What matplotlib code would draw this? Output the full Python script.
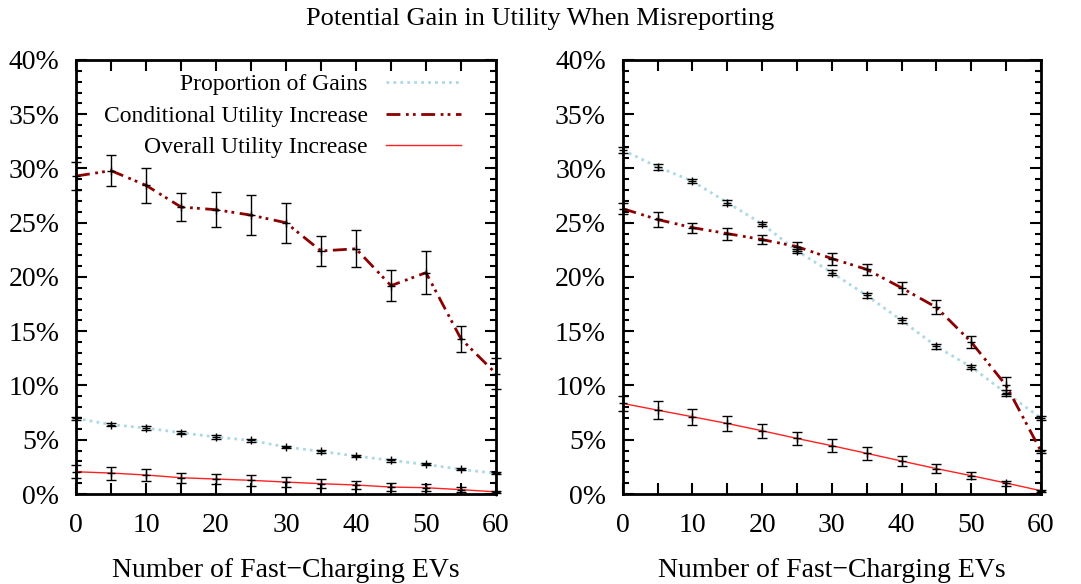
import numpy as np
import matplotlib
matplotlib.use("Agg")
import matplotlib.pyplot as plt
from matplotlib.ticker import MultipleLocator, FuncFormatter

plt.rcParams['font.family'] = ['Liberation Serif', 'DejaVu Serif']

x = [0, 5, 10, 15, 20, 25, 30, 35, 40, 45, 50, 55, 60]

# left panel
left_prop = [6.97, 6.4, 6.08, 5.65, 5.25, 4.94, 4.33, 3.93, 3.5, 3.1, 2.73, 2.27, 1.9]
left_prop_err = [0.15, 0.15, 0.15, 0.15, 0.15, 0.12, 0.12, 0.12, 0.12, 0.12, 0.1, 0.1, 0.1]
left_cond = [29.3, 29.8, 28.45, 26.45, 26.2, 25.7, 25.0, 22.4, 22.6, 19.2, 20.4, 14.3, 11.1]
left_cond_err = [1.3, 1.45, 1.6, 1.25, 1.6, 1.85, 1.85, 1.35, 1.7, 1.4, 2.0, 1.2, 1.4]
left_over = [2.05, 1.93, 1.75, 1.5, 1.38, 1.26, 1.1, 0.95, 0.83, 0.64, 0.58, 0.4, 0.2]
left_over_err = [0.6, 0.6, 0.55, 0.47, 0.5, 0.52, 0.5, 0.42, 0.4, 0.35, 0.34, 0.2, 0.1]

# right panel
right_prop = [31.7, 30.15, 28.83, 26.86, 24.9, 22.4, 20.4, 18.3, 16.0, 13.6, 11.7, 9.3, 7.0]
right_prop_err = [0.3, 0.25, 0.2, 0.2, 0.2, 0.2, 0.2, 0.2, 0.2, 0.2, 0.2, 0.3, 0.15]
right_cond = [26.3, 25.3, 24.55, 24.0, 23.45, 22.8, 21.7, 20.7, 19.0, 17.2, 14.0, 10.0, 3.95]
right_cond_err = [0.5, 0.65, 0.45, 0.55, 0.45, 0.45, 0.55, 0.5, 0.55, 0.65, 0.55, 0.8, 0.15]
right_over = [8.35, 7.73, 7.12, 6.5, 5.83, 5.12, 4.45, 3.75, 3.04, 2.34, 1.69, 1.01, 0.3]
right_over_err = [0.7, 0.8, 0.72, 0.7, 0.66, 0.63, 0.58, 0.57, 0.48, 0.4, 0.33, 0.23, 0.1]

labels = ['Proportion of Gains', 'Conditional Utility Increase', 'Overall Utility Increase']

fig = plt.figure(figsize=(10.81, 5.84), dpi=100)
ax1 = fig.add_axes([0.0703, 0.1541, 0.3885, 0.7432])
ax2 = fig.add_axes([0.576, 0.1541, 0.387, 0.7432])


def panel(ax, prop, prop_err, cond, cond_err, over, over_err, legend):
    ax.plot(x, prop, color='#add8e6', lw=2, ls=(0, (1, 1.5)), label=labels[0], zorder=2)
    ax.plot(x, cond, color='#8b0000', lw=2, ls=(0, (5, 2, 1, 1.5, 1, 2)), label=labels[1], zorder=2)
    ax.plot(x, over, color='#ff2020', lw=1, label=labels[2], zorder=2)
    for v, e in [(prop, prop_err), (cond, cond_err), (over, over_err)]:
        ax.errorbar(x, v, yerr=e, fmt='+', color='black', ms=6, mew=1, elinewidth=1,
                    capsize=3.6, capthick=1, clip_on=False, zorder=3)
    ax.set_xlim(0, 60)
    ax.set_ylim(0, 40)
    ax.xaxis.set_major_locator(MultipleLocator(10))
    ax.xaxis.set_minor_locator(MultipleLocator(5))
    ax.yaxis.set_major_locator(MultipleLocator(5))
    ax.yaxis.set_minor_locator(MultipleLocator(1))
    ax.yaxis.set_major_formatter(FuncFormatter(lambda v, p: '%d%%' % v))
    ax.tick_params(which='both', direction='in', top=True, right=True, width=1.5)
    ax.tick_params(axis='x', which='both', length=8, pad=14, labelsize=20)
    ax.tick_params(axis='y', which='major', length=8, pad=12, labelsize=20)
    ax.tick_params(axis='y', which='minor', length=4)
    for s in ax.spines.values():
        s.set_linewidth(2)
    ax.set_xlabel('Number of Fast\u2212Charging EVs', fontsize=20, labelpad=14)
    if legend:
        ax.legend(loc='upper right', bbox_to_anchor=(0.917, 0.968), frameon=False,
                  markerfirst=False, fontsize=17, handlelength=3.2, handletextpad=0.75,
                  labelspacing=0.42, borderpad=0, borderaxespad=0)


panel(ax1, left_prop, left_prop_err, left_cond, left_cond_err, left_over, left_over_err, True)
panel(ax2, right_prop, right_prop_err, right_cond, right_cond_err, right_over, right_over_err, False)

fig.text(0.5, 0.968, 'Potential Gain in Utility When Misreporting', ha='center', va='center', fontsize=19)

fig.savefig('out.png', dpi=100)
